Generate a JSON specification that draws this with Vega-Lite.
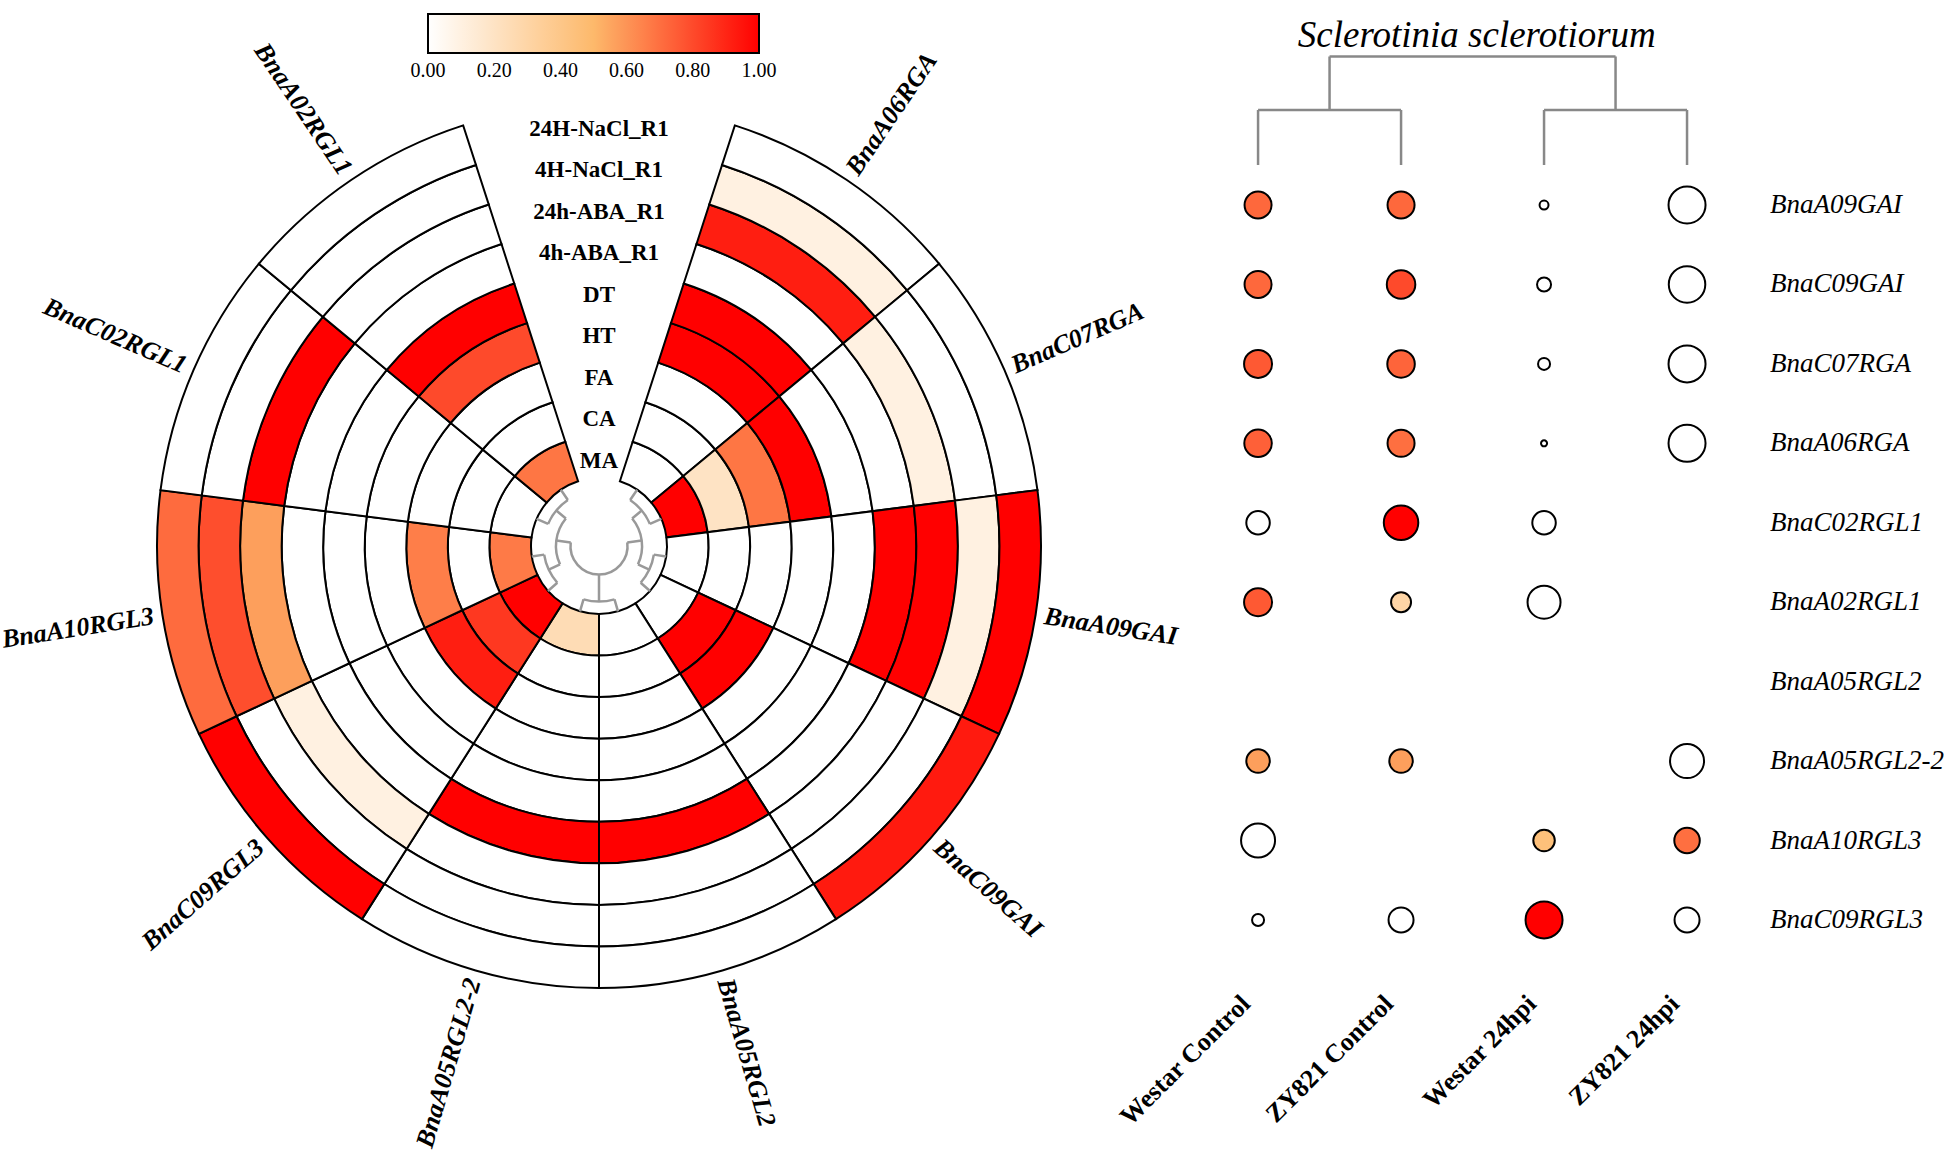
{
  "$schema": "https://vega.github.io/schema/vega-lite/v6.json",
  "padding": 0,
  "background": "white",
  "spacing": 0,
  "bounds": "flush",
  "config": {"view": {"stroke": null}, "font": "Liberation Serif", "text": {"font": "Liberation Serif", "color": "black"}},
  "resolve": {"scale": {"color": "independent", "size": "independent"}},
  "datasets": {
    "cells": [
      {"g":"BnaA06RGA","s0":0,"s1":1,"ring":"MA","r0":0,"r1":1,"v":0},
      {"g":"BnaA06RGA","s0":0,"s1":1,"ring":"CA","r0":1,"r1":2,"v":0},
      {"g":"BnaA06RGA","s0":0,"s1":1,"ring":"FA","r0":2,"r1":3,"v":0},
      {"g":"BnaA06RGA","s0":0,"s1":1,"ring":"HT","r0":3,"r1":4,"v":1},
      {"g":"BnaA06RGA","s0":0,"s1":1,"ring":"DT","r0":4,"r1":5,"v":1},
      {"g":"BnaA06RGA","s0":0,"s1":1,"ring":"4h-ABA_R1","r0":5,"r1":6,"v":0},
      {"g":"BnaA06RGA","s0":0,"s1":1,"ring":"24h-ABA_R1","r0":6,"r1":7,"v":0.92},
      {"g":"BnaA06RGA","s0":0,"s1":1,"ring":"4H-NaCl_R1","r0":7,"r1":8,"v":0.1},
      {"g":"BnaA06RGA","s0":0,"s1":1,"ring":"24H-NaCl_R1","r0":8,"r1":9,"v":0},
      {"g":"BnaC07RGA","s0":1,"s1":2,"ring":"MA","r0":0,"r1":1,"v":1},
      {"g":"BnaC07RGA","s0":1,"s1":2,"ring":"CA","r0":1,"r1":2,"v":0.2},
      {"g":"BnaC07RGA","s0":1,"s1":2,"ring":"FA","r0":2,"r1":3,"v":0.68},
      {"g":"BnaC07RGA","s0":1,"s1":2,"ring":"HT","r0":3,"r1":4,"v":1},
      {"g":"BnaC07RGA","s0":1,"s1":2,"ring":"DT","r0":4,"r1":5,"v":0},
      {"g":"BnaC07RGA","s0":1,"s1":2,"ring":"4h-ABA_R1","r0":5,"r1":6,"v":0},
      {"g":"BnaC07RGA","s0":1,"s1":2,"ring":"24h-ABA_R1","r0":6,"r1":7,"v":0.1},
      {"g":"BnaC07RGA","s0":1,"s1":2,"ring":"4H-NaCl_R1","r0":7,"r1":8,"v":0},
      {"g":"BnaC07RGA","s0":1,"s1":2,"ring":"24H-NaCl_R1","r0":8,"r1":9,"v":0},
      {"g":"BnaA09GAI","s0":2,"s1":3,"ring":"MA","r0":0,"r1":1,"v":0},
      {"g":"BnaA09GAI","s0":2,"s1":3,"ring":"CA","r0":1,"r1":2,"v":0},
      {"g":"BnaA09GAI","s0":2,"s1":3,"ring":"FA","r0":2,"r1":3,"v":0},
      {"g":"BnaA09GAI","s0":2,"s1":3,"ring":"HT","r0":3,"r1":4,"v":0},
      {"g":"BnaA09GAI","s0":2,"s1":3,"ring":"DT","r0":4,"r1":5,"v":0},
      {"g":"BnaA09GAI","s0":2,"s1":3,"ring":"4h-ABA_R1","r0":5,"r1":6,"v":1},
      {"g":"BnaA09GAI","s0":2,"s1":3,"ring":"24h-ABA_R1","r0":6,"r1":7,"v":1},
      {"g":"BnaA09GAI","s0":2,"s1":3,"ring":"4H-NaCl_R1","r0":7,"r1":8,"v":0.1},
      {"g":"BnaA09GAI","s0":2,"s1":3,"ring":"24H-NaCl_R1","r0":8,"r1":9,"v":1},
      {"g":"BnaC09GAI","s0":3,"s1":4,"ring":"MA","r0":0,"r1":1,"v":0},
      {"g":"BnaC09GAI","s0":3,"s1":4,"ring":"CA","r0":1,"r1":2,"v":1},
      {"g":"BnaC09GAI","s0":3,"s1":4,"ring":"FA","r0":2,"r1":3,"v":1},
      {"g":"BnaC09GAI","s0":3,"s1":4,"ring":"HT","r0":3,"r1":4,"v":0},
      {"g":"BnaC09GAI","s0":3,"s1":4,"ring":"DT","r0":4,"r1":5,"v":0},
      {"g":"BnaC09GAI","s0":3,"s1":4,"ring":"4h-ABA_R1","r0":5,"r1":6,"v":0},
      {"g":"BnaC09GAI","s0":3,"s1":4,"ring":"24h-ABA_R1","r0":6,"r1":7,"v":0},
      {"g":"BnaC09GAI","s0":3,"s1":4,"ring":"4H-NaCl_R1","r0":7,"r1":8,"v":0},
      {"g":"BnaC09GAI","s0":3,"s1":4,"ring":"24H-NaCl_R1","r0":8,"r1":9,"v":0.93},
      {"g":"BnaA05RGL2","s0":4,"s1":5,"ring":"MA","r0":0,"r1":1,"v":0},
      {"g":"BnaA05RGL2","s0":4,"s1":5,"ring":"CA","r0":1,"r1":2,"v":0},
      {"g":"BnaA05RGL2","s0":4,"s1":5,"ring":"FA","r0":2,"r1":3,"v":0},
      {"g":"BnaA05RGL2","s0":4,"s1":5,"ring":"HT","r0":3,"r1":4,"v":0},
      {"g":"BnaA05RGL2","s0":4,"s1":5,"ring":"DT","r0":4,"r1":5,"v":0},
      {"g":"BnaA05RGL2","s0":4,"s1":5,"ring":"4h-ABA_R1","r0":5,"r1":6,"v":1},
      {"g":"BnaA05RGL2","s0":4,"s1":5,"ring":"24h-ABA_R1","r0":6,"r1":7,"v":0},
      {"g":"BnaA05RGL2","s0":4,"s1":5,"ring":"4H-NaCl_R1","r0":7,"r1":8,"v":0},
      {"g":"BnaA05RGL2","s0":4,"s1":5,"ring":"24H-NaCl_R1","r0":8,"r1":9,"v":0},
      {"g":"BnaA05RGL2-2","s0":5,"s1":6,"ring":"MA","r0":0,"r1":1,"v":0.25},
      {"g":"BnaA05RGL2-2","s0":5,"s1":6,"ring":"CA","r0":1,"r1":2,"v":0},
      {"g":"BnaA05RGL2-2","s0":5,"s1":6,"ring":"FA","r0":2,"r1":3,"v":0},
      {"g":"BnaA05RGL2-2","s0":5,"s1":6,"ring":"HT","r0":3,"r1":4,"v":0},
      {"g":"BnaA05RGL2-2","s0":5,"s1":6,"ring":"DT","r0":4,"r1":5,"v":0},
      {"g":"BnaA05RGL2-2","s0":5,"s1":6,"ring":"4h-ABA_R1","r0":5,"r1":6,"v":1},
      {"g":"BnaA05RGL2-2","s0":5,"s1":6,"ring":"24h-ABA_R1","r0":6,"r1":7,"v":0},
      {"g":"BnaA05RGL2-2","s0":5,"s1":6,"ring":"4H-NaCl_R1","r0":7,"r1":8,"v":0},
      {"g":"BnaA05RGL2-2","s0":5,"s1":6,"ring":"24H-NaCl_R1","r0":8,"r1":9,"v":0},
      {"g":"BnaC09RGL3","s0":6,"s1":7,"ring":"MA","r0":0,"r1":1,"v":1},
      {"g":"BnaC09RGL3","s0":6,"s1":7,"ring":"CA","r0":1,"r1":2,"v":0.85},
      {"g":"BnaC09RGL3","s0":6,"s1":7,"ring":"FA","r0":2,"r1":3,"v":0.92},
      {"g":"BnaC09RGL3","s0":6,"s1":7,"ring":"HT","r0":3,"r1":4,"v":0},
      {"g":"BnaC09RGL3","s0":6,"s1":7,"ring":"DT","r0":4,"r1":5,"v":0},
      {"g":"BnaC09RGL3","s0":6,"s1":7,"ring":"4h-ABA_R1","r0":5,"r1":6,"v":0},
      {"g":"BnaC09RGL3","s0":6,"s1":7,"ring":"24h-ABA_R1","r0":6,"r1":7,"v":0.1},
      {"g":"BnaC09RGL3","s0":6,"s1":7,"ring":"4H-NaCl_R1","r0":7,"r1":8,"v":0},
      {"g":"BnaC09RGL3","s0":6,"s1":7,"ring":"24H-NaCl_R1","r0":8,"r1":9,"v":1},
      {"g":"BnaA10RGL3","s0":7,"s1":8,"ring":"MA","r0":0,"r1":1,"v":0.67},
      {"g":"BnaA10RGL3","s0":7,"s1":8,"ring":"CA","r0":1,"r1":2,"v":0},
      {"g":"BnaA10RGL3","s0":7,"s1":8,"ring":"FA","r0":2,"r1":3,"v":0.66},
      {"g":"BnaA10RGL3","s0":7,"s1":8,"ring":"HT","r0":3,"r1":4,"v":0},
      {"g":"BnaA10RGL3","s0":7,"s1":8,"ring":"DT","r0":4,"r1":5,"v":0},
      {"g":"BnaA10RGL3","s0":7,"s1":8,"ring":"4h-ABA_R1","r0":5,"r1":6,"v":0},
      {"g":"BnaA10RGL3","s0":7,"s1":8,"ring":"24h-ABA_R1","r0":6,"r1":7,"v":0.57},
      {"g":"BnaA10RGL3","s0":7,"s1":8,"ring":"4H-NaCl_R1","r0":7,"r1":8,"v":0.79},
      {"g":"BnaA10RGL3","s0":7,"s1":8,"ring":"24H-NaCl_R1","r0":8,"r1":9,"v":0.71},
      {"g":"BnaC02RGL1","s0":8,"s1":9,"ring":"MA","r0":0,"r1":1,"v":0},
      {"g":"BnaC02RGL1","s0":8,"s1":9,"ring":"CA","r0":1,"r1":2,"v":0},
      {"g":"BnaC02RGL1","s0":8,"s1":9,"ring":"FA","r0":2,"r1":3,"v":0},
      {"g":"BnaC02RGL1","s0":8,"s1":9,"ring":"HT","r0":3,"r1":4,"v":0},
      {"g":"BnaC02RGL1","s0":8,"s1":9,"ring":"DT","r0":4,"r1":5,"v":0},
      {"g":"BnaC02RGL1","s0":8,"s1":9,"ring":"4h-ABA_R1","r0":5,"r1":6,"v":0},
      {"g":"BnaC02RGL1","s0":8,"s1":9,"ring":"24h-ABA_R1","r0":6,"r1":7,"v":1},
      {"g":"BnaC02RGL1","s0":8,"s1":9,"ring":"4H-NaCl_R1","r0":7,"r1":8,"v":0},
      {"g":"BnaC02RGL1","s0":8,"s1":9,"ring":"24H-NaCl_R1","r0":8,"r1":9,"v":0},
      {"g":"BnaA02RGL1","s0":9,"s1":10,"ring":"MA","r0":0,"r1":1,"v":0.68},
      {"g":"BnaA02RGL1","s0":9,"s1":10,"ring":"CA","r0":1,"r1":2,"v":0},
      {"g":"BnaA02RGL1","s0":9,"s1":10,"ring":"FA","r0":2,"r1":3,"v":0},
      {"g":"BnaA02RGL1","s0":9,"s1":10,"ring":"HT","r0":3,"r1":4,"v":0.8},
      {"g":"BnaA02RGL1","s0":9,"s1":10,"ring":"DT","r0":4,"r1":5,"v":1},
      {"g":"BnaA02RGL1","s0":9,"s1":10,"ring":"4h-ABA_R1","r0":5,"r1":6,"v":0},
      {"g":"BnaA02RGL1","s0":9,"s1":10,"ring":"24h-ABA_R1","r0":6,"r1":7,"v":0},
      {"g":"BnaA02RGL1","s0":9,"s1":10,"ring":"4H-NaCl_R1","r0":7,"r1":8,"v":0},
      {"g":"BnaA02RGL1","s0":9,"s1":10,"ring":"24H-NaCl_R1","r0":8,"r1":9,"v":0}
    ],
    "dendro": [
      {"t0":0.5,"t1":0.5,"d0":-0.3,"d1":0},{"t0":1.5,"t1":1.5,"d0":-0.3,"d1":0},
      {"t0":2.5,"t1":2.5,"d0":-0.3,"d1":0},{"t0":3.5,"t1":3.5,"d0":-0.3,"d1":0},
      {"t0":4.5,"t1":4.5,"d0":-0.3,"d1":0},{"t0":5.5,"t1":5.5,"d0":-0.3,"d1":0},
      {"t0":6.5,"t1":6.5,"d0":-0.3,"d1":0},{"t0":7.5,"t1":7.5,"d0":-0.3,"d1":0},
      {"t0":8.5,"t1":8.5,"d0":-0.3,"d1":0},{"t0":9.5,"t1":9.5,"d0":-0.3,"d1":0},
      {"t0":0.5,"t1":1.5,"d0":-0.3,"d1":-0.3},{"t0":2.5,"t1":3.5,"d0":-0.3,"d1":-0.3},
      {"t0":4.5,"t1":5.5,"d0":-0.3,"d1":-0.3},{"t0":6.5,"t1":7.5,"d0":-0.3,"d1":-0.3},
      {"t0":8.5,"t1":9.5,"d0":-0.3,"d1":-0.3},
      {"t0":1,"t1":1,"d0":-0.6,"d1":-0.3},{"t0":3,"t1":3,"d0":-0.6,"d1":-0.3},
      {"t0":7,"t1":7,"d0":-0.6,"d1":-0.3},{"t0":9,"t1":9,"d0":-0.6,"d1":-0.3},
      {"t0":5,"t1":5,"d0":-0.95,"d1":-0.3},
      {"t0":1,"t1":3,"d0":-0.6,"d1":-0.6},{"t0":7,"t1":9,"d0":-0.6,"d1":-0.6},
      {"t0":2,"t1":2,"d0":-0.95,"d1":-0.6},{"t0":8,"t1":8,"d0":-0.95,"d1":-0.6},
      {"t0":2,"t1":8,"d0":-0.95,"d1":-0.95}
    ],
    "dend2": [
      {"x0":1,"x1":1,"y0":0.496,"y1":-0.196},{"x0":2,"x1":2,"y0":0.496,"y1":-0.196},
      {"x0":3,"x1":3,"y0":0.496,"y1":-0.196},{"x0":4,"x1":4,"y0":0.496,"y1":-0.196},
      {"x0":1,"x1":2,"y0":-0.196,"y1":-0.196},{"x0":3,"x1":4,"y0":-0.196,"y1":-0.196},
      {"x0":1.5,"x1":1.5,"y0":-0.196,"y1":-0.87},{"x0":3.5,"x1":3.5,"y0":-0.196,"y1":-0.87},
      {"x0":1.5,"x1":3.5,"y0":-0.87,"y1":-0.87}
    ],
    "dots": [
      {"gene":"BnaA09GAI","row":1,"col":1,"v":0.72,"level":45.6},
      {"gene":"BnaA09GAI","row":1,"col":2,"v":0.72,"level":45.6},
      {"gene":"BnaA09GAI","row":1,"col":3,"v":0,"level":5},
      {"gene":"BnaA09GAI","row":1,"col":4,"v":0,"level":85.6},
      {"gene":"BnaC09GAI","row":2,"col":1,"v":0.72,"level":45.6},
      {"gene":"BnaC09GAI","row":2,"col":2,"v":0.8,"level":50.8},
      {"gene":"BnaC09GAI","row":2,"col":3,"v":0,"level":12.3},
      {"gene":"BnaC09GAI","row":2,"col":4,"v":0,"level":83.3},
      {"gene":"BnaC07RGA","row":3,"col":1,"v":0.76,"level":49},
      {"gene":"BnaC07RGA","row":3,"col":2,"v":0.73,"level":47.3},
      {"gene":"BnaC07RGA","row":3,"col":3,"v":0,"level":9},
      {"gene":"BnaC07RGA","row":3,"col":4,"v":0,"level":85.6},
      {"gene":"BnaA06RGA","row":4,"col":1,"v":0.74,"level":47.3},
      {"gene":"BnaA06RGA","row":4,"col":2,"v":0.7,"level":45.6},
      {"gene":"BnaA06RGA","row":4,"col":3,"v":0,"level":2.3},
      {"gene":"BnaA06RGA","row":4,"col":4,"v":0,"level":85.6},
      {"gene":"BnaC02RGL1","row":5,"col":1,"v":0,"level":34.5},
      {"gene":"BnaC02RGL1","row":5,"col":2,"v":1,"level":74.4},
      {"gene":"BnaC02RGL1","row":5,"col":3,"v":0,"level":34.5},
      {"gene":"BnaA02RGL1","row":6,"col":1,"v":0.76,"level":49},
      {"gene":"BnaA02RGL1","row":6,"col":2,"v":0.3,"level":25},
      {"gene":"BnaA02RGL1","row":6,"col":3,"v":0,"level":68},
      {"gene":"BnaA05RGL2-2","row":8,"col":1,"v":0.57,"level":34.5},
      {"gene":"BnaA05RGL2-2","row":8,"col":2,"v":0.57,"level":34.5},
      {"gene":"BnaA05RGL2-2","row":8,"col":4,"v":0,"level":72.3},
      {"gene":"BnaA10RGL3","row":9,"col":1,"v":0,"level":72.3},
      {"gene":"BnaA10RGL3","row":9,"col":3,"v":0.45,"level":28.9},
      {"gene":"BnaA10RGL3","row":9,"col":4,"v":0.7,"level":40.6},
      {"gene":"BnaC09RGL3","row":10,"col":1,"v":0,"level":9},
      {"gene":"BnaC09RGL3","row":10,"col":2,"v":0,"level":39},
      {"gene":"BnaC09RGL3","row":10,"col":3,"v":1,"level":85.6},
      {"gene":"BnaC09RGL3","row":10,"col":4,"v":0,"level":39}
    ],
    "genesR": [
      {"gene":"BnaA09GAI","row":1},{"gene":"BnaC09GAI","row":2},{"gene":"BnaC07RGA","row":3},
      {"gene":"BnaA06RGA","row":4},{"gene":"BnaC02RGL1","row":5},{"gene":"BnaA02RGL1","row":6},
      {"gene":"BnaA05RGL2","row":7},{"gene":"BnaA05RGL2-2","row":8},{"gene":"BnaA10RGL3","row":9},
      {"gene":"BnaC09RGL3","row":10}
    ],
    "samples": [
      {"sample":"Westar Control","col":1},{"sample":"ZY821 Control","col":2},
      {"sample":"Westar 24hpi","col":3},{"sample":"ZY821 24hpi","col":4}
    ]
  },
  "hconcat": [
    {
      "width": 1194,
      "height": 1092,
      "resolve": {"scale": {"angle": "independent"}},
      "layer": [
        {
          "data": {"name": "cells"},
          "mark": {"type": "arc", "stroke": "black", "strokeWidth": 2},
          "encoding": {
            "theta": {"field": "s0", "type": "quantitative", "stack": null, "scale": {"domain": [-0.552, 10.552], "range": [0, 6.283185307179586]}},
            "theta2": {"field": "s1"},
            "radius": {"field": "r0", "type": "quantitative", "scale": {"type": "linear", "domain": [0, 9], "range": [68, 442]}},
            "radius2": {"field": "r1"},
            "color": {
              "field": "v", "type": "quantitative",
              "scale": {"domain": [0, 0.5, 1], "range": ["#ffffff", "#fdb96b", "#ff0000"], "interpolate": "rgb"},
              "legend": {
                "orient": "none", "legendX": 426, "legendY": 14, "direction": "horizontal", "title": null,
                "gradientLength": 331, "gradientThickness": 39, "gradientStrokeColor": "black", "gradientStrokeWidth": 2,
                "values": [0, 0.2, 0.4, 0.6, 0.8, 1], "format": ".2f", "labelOverlap": false, "labelAlign": "center",
                "labelFont": "Liberation Serif", "labelFontSize": 20, "labelColor": "black", "labelOffset": 8,
                "encode": {"labels": {"update": {"align": {"value": "center"}}}}
              }
            }
          }
        },
        {
          "data": {"name": "dendro"},
          "mark": {"type": "arc", "filled": false, "stroke": "#999999", "strokeWidth": 2.5},
          "encoding": {
            "theta": {"field": "t0", "type": "quantitative", "stack": null},
            "theta2": {"field": "t1"},
            "radius": {"field": "d0", "type": "quantitative"},
            "radius2": {"field": "d1"}
          }
        },
        {
          "data": {"name": "cells"},
          "transform": [{"filter": "datum.s0 == 0"}],
          "mark": {"type": "text", "theta": 0, "radiusOffset": 17, "fontWeight": "bold", "fontSize": 23, "align": "center", "baseline": "middle"},
          "encoding": {
            "radius": {"field": "r0", "type": "quantitative"},
            "text": {"field": "ring"}
          }
        },
        {
          "data": {"name": "cells"},
          "transform": [{"filter": "datum.r0 == 0 && datum.s0 <= 4"}],
          "mark": {"type": "text", "thetaOffset": 0.2829, "radiusOffset": 9, "align": "left", "baseline": "middle", "fontStyle": "italic", "fontWeight": "bold", "fontSize": 26},
          "encoding": {
            "theta": {"field": "s0", "type": "quantitative", "stack": null},
            "radius": {"datum": 9},
            "angle": {"field": "s0", "type": "quantitative", "scale": {"domain": [0, 9], "range": [-55.9, 235.9]}, "legend": null},
            "text": {"field": "g"}
          }
        },
        {
          "data": {"name": "cells"},
          "transform": [{"filter": "datum.r0 == 0 && datum.s0 >= 5"}],
          "mark": {"type": "text", "thetaOffset": 0.2829, "radiusOffset": 9, "align": "right", "baseline": "middle", "fontStyle": "italic", "fontWeight": "bold", "fontSize": 26},
          "encoding": {
            "theta": {"field": "s0", "type": "quantitative", "stack": null},
            "radius": {"datum": 9},
            "angle": {"field": "s0", "type": "quantitative", "scale": {"domain": [0, 9], "range": [-235.9, 55.9]}, "legend": null},
            "text": {"field": "g"}
          }
        }
      ]
    },
    {
      "width": 750,
      "height": 1157,
      "layer": [
        {
          "data": {"name": "dend2"},
          "mark": {"type": "rule", "color": "#888888", "strokeWidth": 2.5},
          "encoding": {
            "x": {"field": "x0", "type": "quantitative", "scale": {"domain": [0.566, 5.811], "nice": false, "zero": false}, "axis": null},
            "x2": {"field": "x1"},
            "y": {"field": "y0", "type": "quantitative", "scale": {"domain": [-1.581, 12.984], "nice": false, "zero": false, "reverse": true}, "axis": null},
            "y2": {"field": "y1"}
          }
        },
        {
          "data": {"values": [{"t": "Sclerotinia sclerotiorum"}]},
          "mark": {"type": "text", "fontStyle": "italic", "fontSize": 37, "align": "center", "baseline": "middle"},
          "encoding": {
            "x": {"datum": 2.53, "type": "quantitative"},
            "y": {"datum": -1.127, "type": "quantitative"},
            "text": {"field": "t"}
          }
        },
        {
          "data": {"name": "dots"},
          "mark": {"type": "circle", "stroke": "black", "strokeWidth": 2, "opacity": 1, "filled": true},
          "encoding": {
            "x": {"field": "col", "type": "quantitative"},
            "y": {"field": "row", "type": "quantitative"},
            "size": {"field": "level", "type": "quantitative", "scale": {"type": "linear", "domain": [0, 100], "range": [0, 1600]}, "legend": null},
            "color": {"field": "v", "type": "quantitative", "scale": {"domain": [0, 0.5, 1], "range": ["#ffffff", "#fdb96b", "#ff0000"], "interpolate": "rgb"}, "legend": null}
          }
        },
        {
          "data": {"name": "genesR"},
          "mark": {"type": "text", "align": "left", "baseline": "middle", "fontStyle": "italic", "fontSize": 27},
          "encoding": {
            "x": {"datum": 4.58, "type": "quantitative"},
            "y": {"field": "row", "type": "quantitative"},
            "text": {"field": "gene"}
          }
        },
        {
          "data": {"name": "samples"},
          "mark": {"type": "text", "angle": -45, "align": "right", "baseline": "top", "dx": -16, "dy": -14, "fontWeight": "bold", "fontSize": 26},
          "encoding": {
            "x": {"field": "col", "type": "quantitative"},
            "y": {"datum": 10.87, "type": "quantitative"},
            "text": {"field": "sample"}
          }
        }
      ]
    }
  ]
}
